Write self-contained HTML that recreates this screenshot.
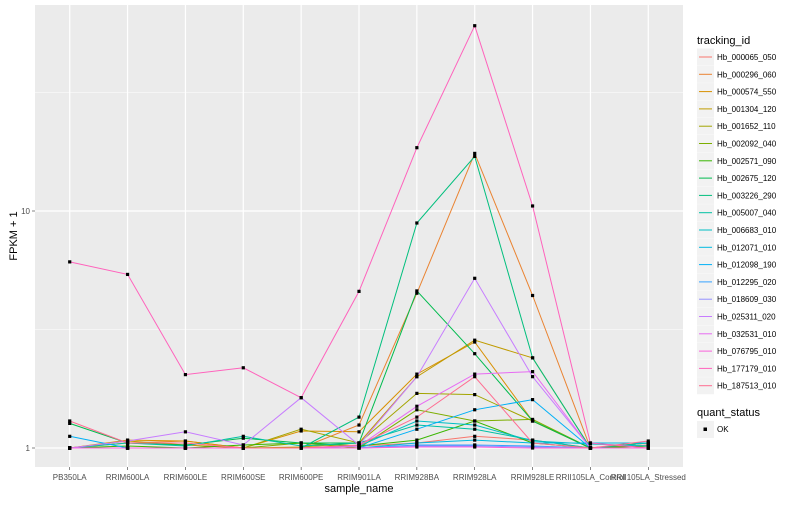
<!DOCTYPE html>
<html><head><meta charset="utf-8"><style>
body{margin:0;background:#fff;font-family:"Liberation Sans",sans-serif}
svg text{font-family:"Liberation Sans",sans-serif}
</style></head><body>
<svg id="chart" width="800" height="500" xmlns="http://www.w3.org/2000/svg"></svg>
<script>
const categories=["PB350LA","RRIM600LA","RRIM600LE","RRIM600SE","RRIM600PE","RRIM901LA","RRIM928BA","RRIM928LA","RRIM928LE","RRII105LA_Control","RRII105LA_Stressed"];
const seriesNames=["Hb_000065_050","Hb_000296_060","Hb_000574_550","Hb_001304_120","Hb_001652_110","Hb_002092_040","Hb_002571_090","Hb_002675_120","Hb_003226_290","Hb_005007_040","Hb_006683_010","Hb_012071_010","Hb_012098_190","Hb_012295_020","Hb_018609_030","Hb_025311_020","Hb_032531_010","Hb_076795_010","Hb_177179_010","Hb_187513_010"];
const seriesColors=["#F8766D","#EA8331","#D89000","#C09B00","#A3A500","#7CAE00","#39B600","#00BB4E","#00BF7D","#00C1A3","#00BFC4","#00BAE0","#00B0F6","#35A2FF","#9590FF","#C77CFF","#E76BF3","#FA62DB","#FF62BC","#FF6C91"];
const s0=[1,1,1,1,1,1.02,1.05,1.12,1.08,1,1.03];
const s1=[1,1.05,1.07,1,1,1.25,4.5,17.5,4.4,1,1];
const s2=[1,1.08,1.07,1,1.18,1.17,2.05,2.8,1.3,1,1.05];
const s3=[1,1.07,1.03,1,1.01,1.05,2.0,2.85,2.4,1,1.05];
const s4=[1,1,1,1,1.2,1.05,1.7,1.68,1.3,1,1];
const s5=[1,1,1,1,1.05,1.0,1.45,1.3,1.32,1,1.02];
const s6=[1,1.02,1,1.03,1.05,1.02,1.08,1.3,1.05,1,1.02];
const s7=[1.27,1.05,1.03,1.1,1.05,1.05,4.6,2.5,1.3,1,1];
const s8=[1,1,1,1,1,1.35,8.9,17,2.4,1,1];
const s9=[1,1.05,1.02,1.12,1.02,1.05,1.25,1.2,1.08,1,1.05];
const s10=[1,1,1,1,1,1.02,1.3,1.25,1.07,1.04,1.02];
const s11=[1,1,1,1,1,1.0,1.05,1.08,1.05,1.05,1.05];
const s12=[1.12,1,1,1,1,1,1.2,1.45,1.6,1,1];
const s13=[1,1,1,1,1,1,1.03,1.03,1.02,1,1];
const s14=[1,1,1,1,1,1,1.02,1.02,1.01,1,1];
const s15=[1,1.07,1.17,1.03,1.63,1.03,2.0,5.2,2.0,1,1];
const s16=[1,1,1,1,1,1.02,1.5,2.05,2.1,1,1];
const s17=[1,1,1,1,1,1,1.01,1.01,1.0,1,1];
const s18=[6.1,5.4,2.04,2.18,1.63,4.58,18.5,60.5,10.5,1.05,1];
const s19=[1.3,1.05,1.05,1,1,1.03,1.35,2.0,1.05,1,1.07];
const seriesValues=[s0,s1,s2,s3,s4,s5,s6,s7,s8,s9,s10,s11,s12,s13,s14,s15,s16,s17,s18,s19];
const yTicks=[1,10];
const yMinor=[3.1623,31.623];

const NS="http://www.w3.org/2000/svg";
const svg=document.getElementById('chart');
function el(t,a,p){const e=document.createElementNS(NS,t);for(const k in a)e.setAttribute(k,a[k]);(p||svg).appendChild(e);return e;}
const PL=35,PR=683,PT=5,PB=467;
const step=(PR-PL)/(categories.length-1+1.2);
function x(i){return PL+step*(i+0.6);}
function y(v){return 448-237*Math.log10(v);}

const panel=el('rect',{x:PL,y:PT,width:PR-PL,height:PB-PT,fill:'#EBEBEB'});


yMinor.forEach(v=>{const l=el('line',{x1:PL,x2:PR,y1:y(v),y2:y(v),stroke:'#fff','stroke-width':0.6});

});
yTicks.forEach(v=>{const l=el('line',{x1:PL,x2:PR,y1:y(v),y2:y(v),stroke:'#fff','stroke-width':1.2});


const t=el('text',{x:PL-5,y:y(v)+3,'text-anchor':'end','font-size':8,fill:'#4D4D4D'});t.textContent=v;


el('line',{x1:PL-3,x2:PL,y1:y(v),y2:y(v),stroke:'#333','stroke-width':0.6});});
categories.forEach((c,i)=>{const l=el('line',{x1:x(i),x2:x(i),y1:PT,y2:PB,stroke:'#fff','stroke-width':1.2});


el('line',{x1:x(i),x2:x(i),y1:PB,y2:PB+3,stroke:'#333','stroke-width':0.6});
const t=el('text',{x:x(i),y:PB+13,'text-anchor':'middle','font-size':8,fill:'#4D4D4D'});t.textContent=c;

});

seriesValues.forEach((vals,s)=>{
 const d=vals.map((v,i)=>(i?'L':'M')+x(i).toFixed(1)+','+y(v).toFixed(1)).join(' ');
 const p=el('path',{d:d,fill:'none',stroke:seriesColors[s],'stroke-width':1});
 
 
});
seriesValues.forEach((vals,s)=>{
 vals.forEach((v,i)=>{const r=el('rect',{x:x(i)-1.6,y:y(v)-1.6,width:3.2,height:3.2,fill:'#000'});
 
 });
});

const xt=el('text',{x:(PL+PR)/2,y:492,'text-anchor':'middle','font-size':11,fill:'#000'});xt.textContent='sample_name';


const yt=el('text',{x:0,y:0,transform:'translate(17,236) rotate(-90)','text-anchor':'middle','font-size':11,fill:'#000'});yt.textContent='FPKM + 1';



const lt=el('text',{x:697,y:44,'font-size':11,fill:'#000'});lt.textContent='tracking_id';


seriesNames.forEach((n,s)=>{const cy=57+s*17.3;
 const g=el('g',{});
 
 
 el('rect',{x:697,y:cy-8.5,width:17,height:17,fill:'#F2F2F2'},g);
 el('line',{x1:699,x2:712,y1:cy,y2:cy,stroke:seriesColors[s],'stroke-width':1},g);
 const t=el('text',{x:717,y:cy+3,'font-size':8,fill:'#000'},g);t.textContent=n;});
const qt=el('text',{x:697,y:416,'font-size':11,fill:'#000'});qt.textContent='quant_status';


const g2=el('g',{});


el('rect',{x:697,y:421,width:17,height:17,fill:'#F2F2F2'},g2);
el('rect',{x:703.5,y:427.5,width:3.5,height:3.5,fill:'#000'},g2);
const ok=el('text',{x:717,y:432,'font-size':8,fill:'#000'},g2);ok.textContent='OK';
</script>
</body></html>
